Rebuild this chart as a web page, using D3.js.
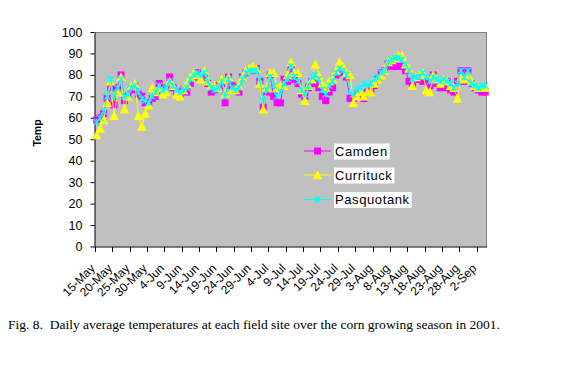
<!DOCTYPE html>
<html>
<head>
<meta charset="utf-8">
<script src="https://cdn.jsdelivr.net/npm/d3@7/dist/d3.min.js"></script>
<style>
  html, body { margin: 0; padding: 0; background: #fff; }
  svg { display: block; }
</style>
</head>
<body>
<svg id="chart" width="562" height="382"></svg>
<script>
// ---- data (daily values from 15-May to 4-Sep, 2001) ----
const seriesNames = ["Camden", "Currituck", "Pasquotank"];
const camden = [59,60,62,69,74,66,74,80,68,70,73,75,71,70,67,67,69,70,76,72,74,79,74,72,71,73,72,76,79,81,
  79,80,76,72,73,75,76,67,79,75,74,72,79,81,82,82,83,77,65,72,80,70,67,67,78,77,83,78,76,71,
  70,74,77,76,74,70,68,72,74,80,81,81,79,69,69,71,70,69,72,73,75,78,81,82,85,84,84,84,84,82,
  77,76,78,78,77,77,75,80,76,74,74,77,73,72,77,82,77,82,76,74,73,72,72];
const currituck = [52,55,59,67,77,61,72,79,64,70,75,76,61,56,62,66,74,72,74,71,72,77,75,71,70,73,76,79,81,80,
  78,82,77,75,75,74,78,71,79,73,73,75,79,82,83,84,83,76,64,74,81,81,74,75,75,80,86,81,81,73,
  68,75,78,85,80,76,74,77,78,82,86,84,81,80,67,70,72,70,72,72,76,78,80,82,86,87,88,89,89,85,
  83,75,79,80,81,73,72,80,78,76,78,77,75,74,69,79,78,80,77,75,74,74,74];
const pasquotank = [58,60,63,70,78,70,74,78,70,71,74,75,72,69,68,67,70,72,75,73,74,77,75,73,72,73,74,78,80,81,
  80,81,77,74,73,74,77,70,78,74,73,74,78,81,82,82,82,78,68,73,79,75,70,72,76,78,84,79,77,73,
  71,75,79,80,78,73,71,75,77,81,83,82,80,72,71,73,74,76,75,76,78,79,81,82,86,87,88,88,87,85,
  82,78,79,79,81,79,77,79,78,77,78,77,76,74,76,82,79,82,76,75,74,75,75];
const tickLabels = ["15-May","20-May","25-May","30-May","4-Jun","9-Jun","14-Jun","19-Jun","24-Jun","29-Jun",
  "4-Jul","9-Jul","14-Jul","19-Jul","24-Jul","29-Jul","3-Aug","8-Aug","13-Aug","18-Aug","23-Aug","28-Aug","2-Sep"];
const yTicks = [0,10,20,30,40,50,60,70,80,90,100];
const colors = ["#FF00FF", "#FFFF00", "#00FFFF"];
const caption = "Fig. 8.  Daily average temperatures at each field site over the corn growing season in 2001.";

// ---- layout ----
const svg = d3.select("#chart");
const plot = {left: 95, right: 487, top: 32, bottom: 246.5};
const allSeries = [camden, currituck, pasquotank];
const nCat = camden.length;

const x = d3.scaleBand().domain(d3.range(nCat)).range([plot.left, plot.right]).paddingInner(0).paddingOuter(0);
const y = d3.scaleLinear().domain([0, 100]).range([plot.bottom, plot.top]);
const cx = i => x(i) + x.bandwidth() / 2;

// plot background
svg.append("rect")
  .attr("x", plot.left).attr("y", plot.top)
  .attr("width", plot.right - plot.left).attr("height", plot.bottom - plot.top)
  .attr("fill", "#C0C0C0");
// gray frame top & right
svg.append("path")
  .attr("d", `M${plot.left},${plot.top + 0.5}H${plot.right - 0.5}V${plot.bottom}`)
  .attr("fill", "none").attr("stroke", "#808080").attr("stroke-width", 1);

// y axis
const yAxis = d3.axisLeft(y).tickValues(yTicks).tickSize(4).tickPadding(8).tickSizeOuter(0);
const gy = svg.append("g").attr("transform", `translate(${plot.left - 0.5},0)`).call(yAxis);
gy.select(".domain").attr("stroke", "#000");
gy.selectAll(".tick line").attr("stroke", "#000");
gy.selectAll(".tick text").attr("font-family", "Arial, 'Liberation Sans', sans-serif")
  .attr("font-size", 12.5).attr("fill", "#000");

// x axis (category axis, ticks every 5 categories at category boundaries)
const tickIdx = tickLabels.map((d, k) => k * 5);
const gx = svg.append("g").attr("transform", `translate(0,${plot.bottom + 0.5})`);
gx.append("line").attr("x1", plot.left - 0.5).attr("x2", plot.right).attr("y1", 0).attr("y2", 0).attr("stroke", "#000");
gx.selectAll("line.tk").data(tickIdx).join("line").attr("class", "tk")
  .attr("x1", d => Math.round(x(d)) + 0.5).attr("x2", d => Math.round(x(d)) + 0.5)
  .attr("y1", 0).attr("y2", 5).attr("stroke", "#000");
gx.selectAll("text").data(tickIdx).join("text")
  .attr("transform", (d) => `translate(${cx(d) - 4},19) rotate(-45)`)
  .attr("text-anchor", "end").attr("dy", "0.35em")
  .attr("font-family", "Arial, 'Liberation Sans', sans-serif").attr("font-size", 12).attr("fill", "#000")
  .text((d, k) => tickLabels[k]);

// y title
svg.append("text")
  .attr("transform", `translate(41,133) rotate(-90)`)
  .attr("text-anchor", "middle")
  .attr("font-family", "Arial, 'Liberation Sans', sans-serif").attr("font-size", 10.5).attr("font-weight", "bold")
  .text("Temp");

// markers
function marker(g, k, size) {
  if (k === 0) {
    g.append("rect").attr("x", -size / 2).attr("y", -size / 2).attr("width", size).attr("height", size)
      .attr("fill", colors[0]);
  } else if (k === 1) {
    const s = size;
    g.append("path").attr("d", `M0,${-s / 2 - 0.5}L${s / 2 + 0.5},${s / 2}L${-s / 2 - 0.5},${s / 2}Z`)
      .attr("fill", colors[1]);
  } else {
    const s = size / 2;
    g.append("path").attr("d", `M${-s},${-s}L${s},${s}M${-s},${s}L${s},${-s}M0,${-s}V${s}`)
      .attr("stroke", colors[2]).attr("stroke-width", 1.2).attr("fill", "none");
  }
}
const sizes = [7, 8.5, 6];

const line = d3.line().x((d, i) => cx(i)).y(d => y(d));
allSeries.forEach((vals, k) => {
  const g = svg.append("g");
  g.append("path").datum(vals).attr("d", line).attr("fill", "none")
    .attr("stroke", colors[k]).attr("stroke-width", 1);
  vals.forEach((v, i) => {
    const m = g.append("g").attr("transform", `translate(${cx(i)},${y(v)})`);
    marker(m, k, sizes[k]);
  });
});

// legend
const leg = svg.append("g");
const legY = [151, 175, 199.5];
seriesNames.forEach((name, k) => {
  const g = leg.append("g").attr("transform", `translate(304,${legY[k]})`);
  g.append("line").attr("x1", 0).attr("x2", 27).attr("y1", 0).attr("y2", 0).attr("stroke", colors[k]);
  const m = g.append("g").attr("transform", "translate(13.5,0)");
  marker(m, k, sizes[k]);
  const t = g.append("text").attr("x", 31).attr("y", 4.5)
    .attr("font-family", "Arial, 'Liberation Sans', sans-serif").attr("font-size", 13)
    .attr("letter-spacing", 0.6).text(name);
  const bb = t.node().getBBox();
  g.insert("rect", "text").attr("x", bb.x - 1).attr("y", -7.5).attr("width", bb.width + 3).attr("height", 16)
    .attr("fill", "#fff");
});

// caption
const cap = svg.append("text").attr("x", 8).attr("y", 329)
  .attr("font-family", "'Times New Roman', 'Liberation Serif', serif").attr("font-size", 12.5)
  .attr("xml:space", "preserve").style("white-space", "pre")
  .text(caption);
const w = cap.node().getComputedTextLength();
if (Math.abs(w - 492) > 4) cap.attr("textLength", 492).attr("lengthAdjust", "spacingAndGlyphs");
</script>
</body>
</html>
